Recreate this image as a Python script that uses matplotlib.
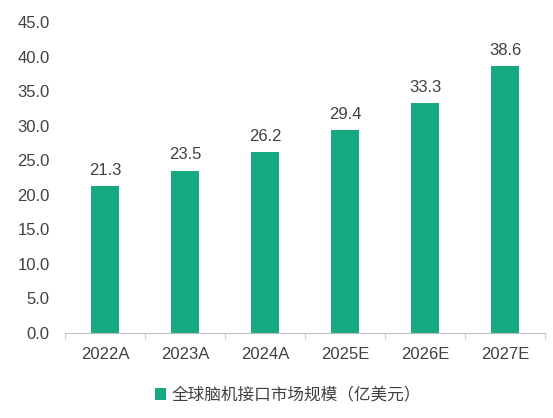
import numpy as np
import matplotlib.pyplot as plt

plt.rcParams['font.family'] = ['Liberation Sans', 'Noto Sans CJK SC', 'DejaVu Sans']

# 数据
years = ['2022A', '2023A', '2024A', '2025E', '2026E', '2027E']
market_size = [21.3, 23.5, 26.2, 29.4, 33.3, 38.6]
legend_label = '全球脑机接口市场规模（亿美元）'

bar_color = '#17AA82'
text_color = '#404040'

fig = plt.figure(figsize=(5.53, 4.18), dpi=100)
ax = fig.add_axes([0.1175, 0.2033, 0.868, 0.744])

x = np.arange(len(years))
ax.bar(x, market_size, width=0.34, color=bar_color, label=legend_label)

for xi, v in zip(x, market_size):
    ax.text(xi, v + 1.2, f'{v:.1f}', ha='center', va='bottom', fontsize=12, color=text_color)

ax.set_xlim(-0.5, len(years) - 0.5)
ax.set_ylim(0, 45)
yt = np.arange(0, 45.1, 5)
ax.set_yticks(yt)
ax.set_yticklabels([f'{t:.1f}' for t in yt])
ax.set_xticks(x)
ax.set_xticklabels(years)
ax.set_xticks(np.arange(-0.5, len(years), 1), minor=True)

for s in ['top', 'right', 'left']:
    ax.spines[s].set_visible(False)
ax.spines['bottom'].set_color('#bfbfbf')
ax.tick_params(axis='y', length=0, labelsize=12, labelcolor=text_color, pad=11)
ax.tick_params(axis='x', which='major', length=0, labelsize=12, labelcolor=text_color, pad=10)
ax.tick_params(axis='x', which='minor', length=4, color='#bfbfbf')

fig.legend(loc='lower center', bbox_to_anchor=(0.52, 0.0), frameon=False, fontsize=12,
           handlelength=0.7, handleheight=0.7, handletextpad=0.3, labelcolor=text_color)

fig.savefig('out.png', dpi=100)
